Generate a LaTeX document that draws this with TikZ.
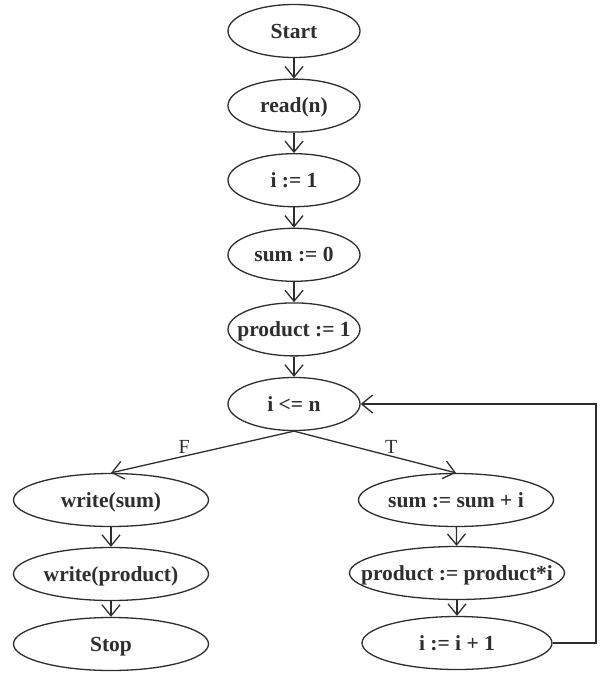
\documentclass[tikz,border=0pt]{standalone}
\usepackage{fontspec}
\setmainfont{Liberation Serif}
\usetikzlibrary{shapes.geometric,arrows.meta}
\definecolor{ink}{gray}{0.18}
% text sits in a zero-width box so every ellipse keeps its own fixed size
\newcommand\inside[1]{\makebox[0pt][c]{#1}}
\begin{document}
\begin{tikzpicture}[x=1pt,y=-1pt,
  box/.style={ellipse, draw=ink, line width=1.3pt, inner sep=0pt,
    minimum height=53pt, minimum width=#1,
    font=\fontsize{21.5}{24}\selectfont\bfseries, text=ink,
    text height=14.6pt, text depth=0.4pt},
  box/.default=132pt,
  flow/.style={draw=ink, line width=1.3pt,
    -{Straight Barb[length=11pt,width=18pt,line width=1.3pt]}},
  lbl/.style={font=\fontsize{20}{22}\selectfont, text=ink, inner sep=2pt}]

\fill[white] (0,0) rectangle (602,677);
\useasboundingbox (0,0) rectangle (602,677);

% main column
\node[box] (start) at (294,31)    {\inside{Start}};
\node[box] (read)  at (294,105.6) {\inside{read(n)}};
\node[box] (ione)  at (294,180.2) {\inside{i := 1}};
\node[box] (szero) at (294,254.8) {\inside{sum := 0}};
\node[box] (pone)  at (294,329.4) {\inside{product := 1}};
\node[box] (cond)  at (294,404)   {\inside{i <= n}};

% false branch
\node[box=195pt] (wsum)  at (111,500) {\inside{write(sum)}};
\node[box=195pt] (wprod) at (111,574) {\inside{write(product)}};
\node[box=195pt] (stop)  at (111,644) {\inside{Stop}};

% true branch
\node[box=195pt] (ssum)  at (456,500) {\inside{sum := sum + i}};
\node[box=215pt] (pprod) at (457,573) {\inside{product := product*i}};
\node[box=190pt] (inc)   at (457,643) {\inside{i := i + 1}};

\coordinate (rail) at (596,0);

\draw[flow] (start) -- (read);
\draw[flow] (read)  -- (ione);
\draw[flow] (ione)  -- (szero);
\draw[flow] (szero) -- (pone);
\draw[flow] (pone)  -- (cond);

\draw[flow] (cond.south) -- (wsum.north) node[lbl, pos=0.6, above] {F};
\draw[flow] (cond.south) -- (ssum.north) node[lbl, pos=0.6, above] {T};

\draw[flow] (wsum)  -- (wprod);
\draw[flow] (wprod) -- (stop);
\draw[flow] (ssum)  -- (pprod);
\draw[flow] (pprod) -- (inc);

% loop back to the test
\draw[flow] (inc.east) -- (inc.east -| rail) -- (cond.east -| rail) -- (cond.east);
\end{tikzpicture}
\end{document}
